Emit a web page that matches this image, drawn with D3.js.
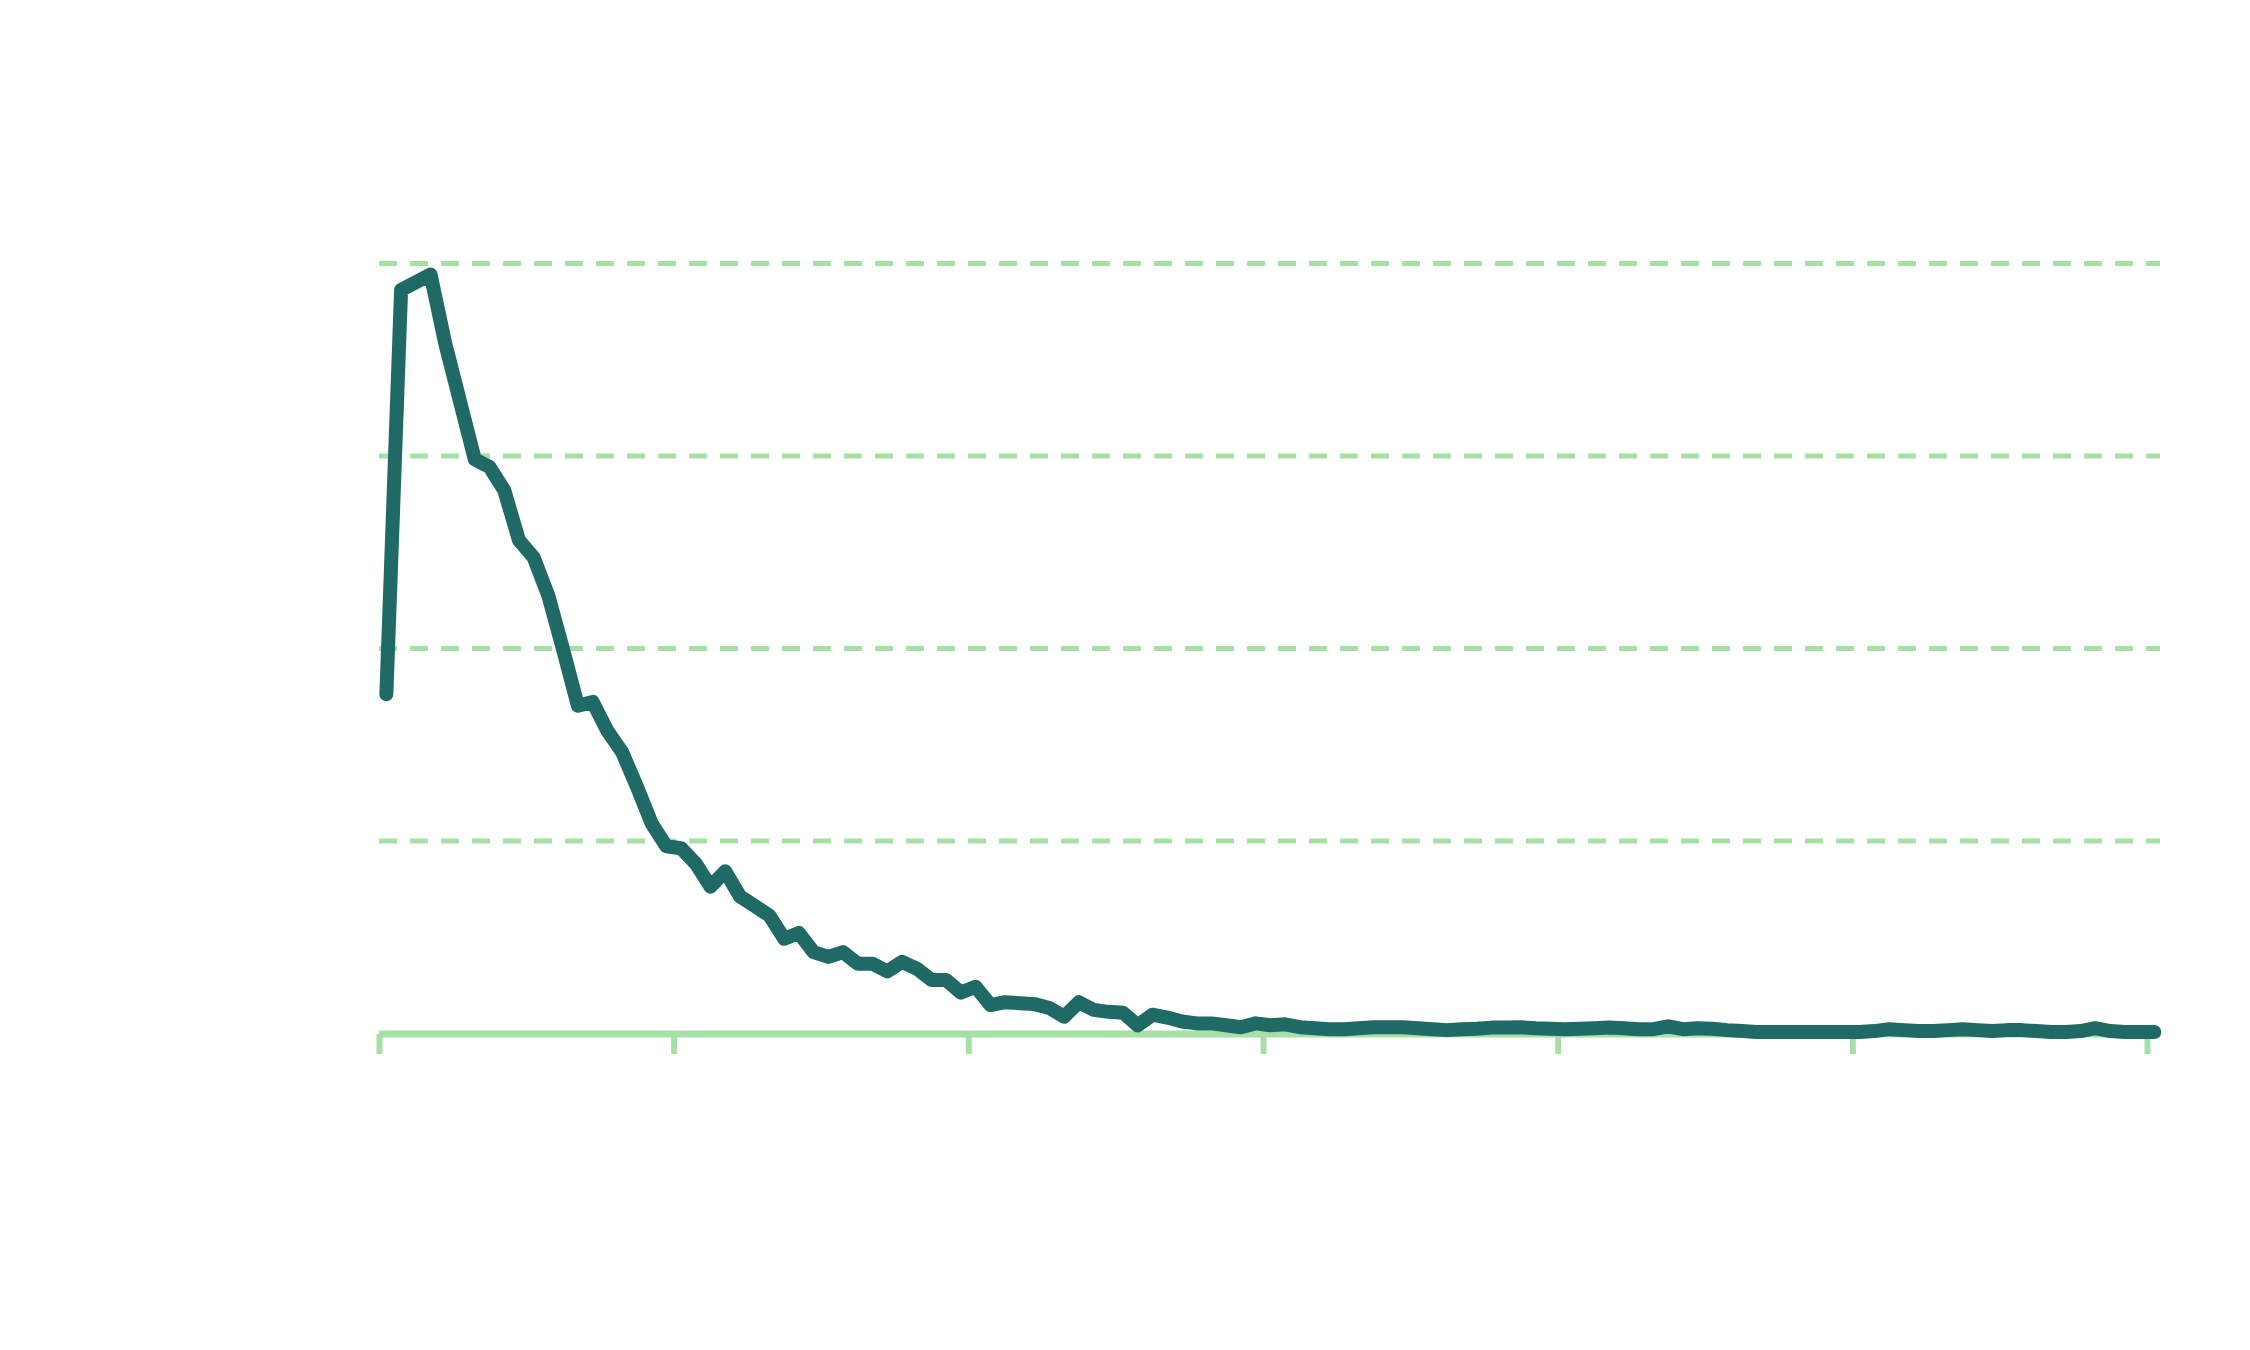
<!DOCTYPE html>
<html>
<head>
<meta charset="utf-8">
<script src="https://cdn.jsdelivr.net/npm/d3@7"></script>
<style>
  html, body { margin: 0; padding: 0; background: #fff; }
  svg { display: block; }
</style>
</head>
<body>
<svg width="2250" height="1350"></svg>
<script>
// values, one per step
var values = [
  17.6, 38.6, 39.0, 39.4, 35.8, 32.8, 29.8, 29.4, 28.2, 25.6,
  24.7, 22.7, 19.9, 17.0, 17.2, 15.7, 14.6, 12.8, 10.9, 9.7,
  9.6, 8.8, 7.6, 8.4, 7.1, 6.6, 6.1, 4.9, 5.2, 4.2,
  3.95, 4.2, 3.6, 3.6, 3.2, 3.7, 3.35, 2.75, 2.75, 2.1,
  2.4, 1.45, 1.6, 1.55, 1.5, 1.3, 0.85, 1.6, 1.2, 1.1,
  1.05, 0.4, 0.95, 0.8, 0.6, 0.5, 0.5, 0.4, 0.3, 0.5,
  0.4, 0.45, 0.3, 0.25, 0.2, 0.2, 0.25, 0.3, 0.3, 0.3,
  0.25, 0.2, 0.15, 0.2, 0.22, 0.28, 0.28, 0.3, 0.25, 0.22,
  0.2, 0.22, 0.25, 0.28, 0.25, 0.2, 0.2, 0.35, 0.2, 0.25,
  0.22, 0.15, 0.1, 0.05, 0.05, 0.05, 0.05, 0.05, 0.05, 0.05,
  0.05, 0.1, 0.2, 0.15, 0.1, 0.1, 0.15, 0.2, 0.15, 0.1,
  0.15, 0.15, 0.1, 0.05, 0.05, 0.1, 0.25, 0.1, 0.05, 0.05,
  0.05
]
var x_ticks = [0, 20, 40, 60, 80, 100, 120]
var y_ticks = [10, 20, 30, 40]

var svg = d3.select('svg')

var left = 379, right = 2147, plot_right = 2160
var top_y = 263, bottom_y = 1033

var x = d3.scaleLinear().domain([0, 120]).range([left, right])
var y = d3.scaleLinear().domain([0, 40]).range([bottom_y, top_y])

var grid_color = '#a7e0a6'
var line_color = '#206a66'

// dashed horizontal grid
var grid = svg.append('g')
    .attr('transform', `translate(${left},0)`)
    .call(d3.axisLeft(y).tickValues(y_ticks).tickSize(-(plot_right - left)).tickFormat(''))
grid.select('.domain').remove()
grid.selectAll('.tick line')
    .attr('stroke', grid_color)
    .attr('stroke-width', 5)
    .attr('stroke-dasharray', '18,13')

// bottom axis: ticks only, baseline drawn separately
var xaxis = svg.append('g')
    .attr('transform', `translate(0,${bottom_y + 1})`)
    .call(d3.axisBottom(x).tickValues(x_ticks).tickSize(20).tickFormat(''))
xaxis.select('.domain').remove()
xaxis.selectAll('.tick line')
    .attr('stroke', grid_color)
    .attr('stroke-width', 6)

svg.append('line')
    .attr('x1', left)
    .attr('x2', plot_right)
    .attr('y1', y(0) + 1)
    .attr('y2', y(0) + 1)
    .attr('stroke', grid_color)
    .attr('stroke-width', 7)

var lineGenerator = d3.line()
    .x((d, i) => x(i + 0.5))
    .y(d => y(d))

svg.append('path')
    .datum(values)
    .attr('d', lineGenerator)
    .style('fill', 'none')
    .style('stroke', line_color)
    .style('stroke-width', 14)
    .style('stroke-linejoin', 'round')
    .style('stroke-linecap', 'round')
</script>
</body>
</html>
